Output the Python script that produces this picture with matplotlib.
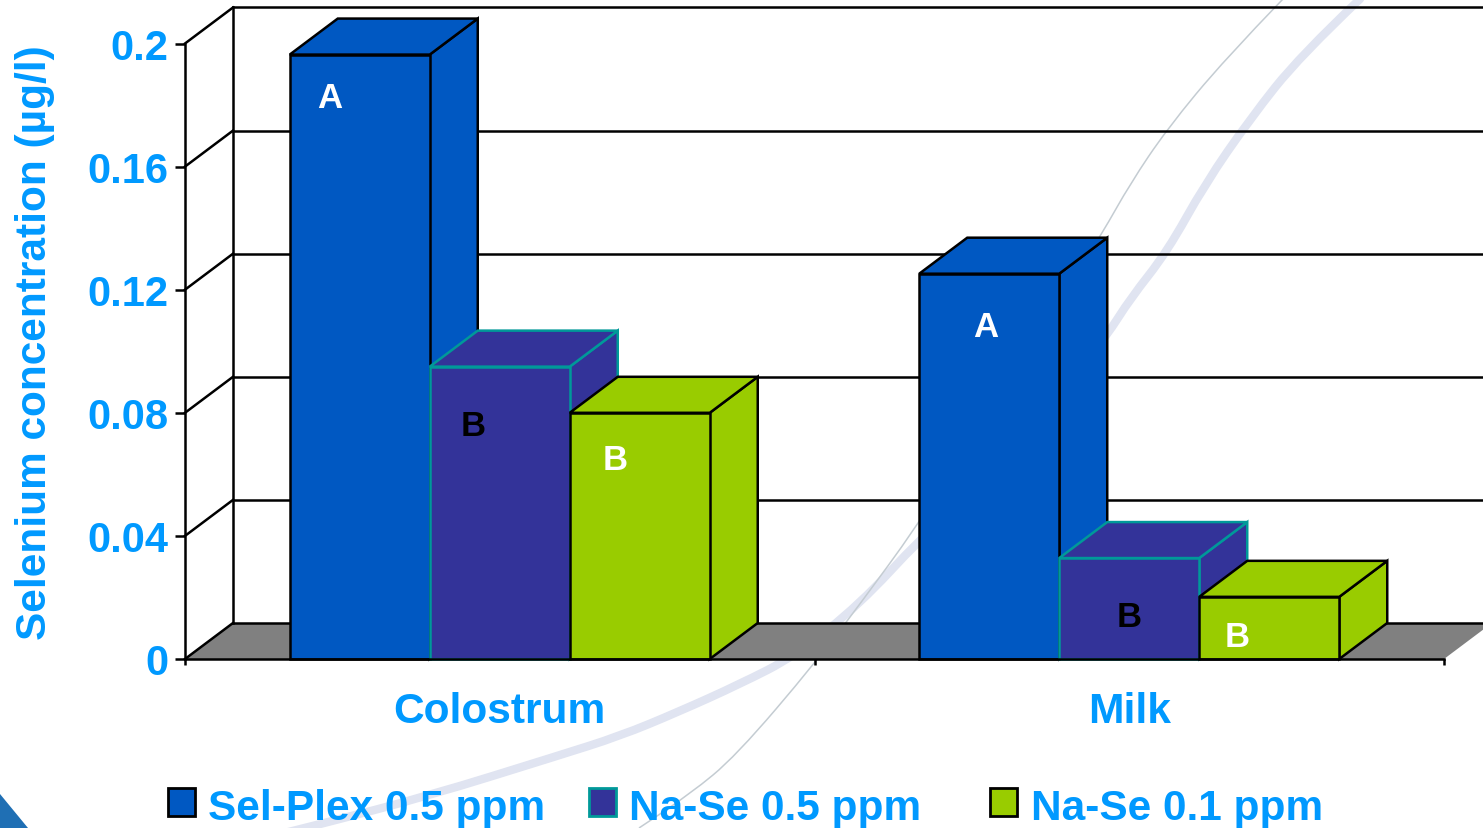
import matplotlib
matplotlib.use("Agg")
import matplotlib.pyplot as plt
from matplotlib.path import Path
from matplotlib.patches import PathPatch
import numpy as np

plt.rcParams['font.family'] = ['Liberation Sans', 'DejaVu Sans']
plt.rcParams['font.weight'] = 'bold'

# data
categories = ["Colostrum", "Milk"]
series = ["Sel-Plex 0.5 ppm", "Na-Se 0.5 ppm", "Na-Se 0.1 ppm"]
sel_plex = [0.1964, 0.1252]
na_se_05 = [0.0950, 0.0328]
na_se_01 = [0.0800, 0.0202]
yticks = [0, 0.04, 0.08, 0.12, 0.16, 0.2]
ytick_labels = ["0", "0.04", "0.08", "0.12", "0.16", "0.2"]

# significance letters: (letter, x, y, colour)
letters = [("A", 0.230, 0.1825, "white"), ("B", 0.458, 0.0758, "black"),
           ("B", 0.683, 0.0647, "white"), ("A", 1.272, 0.1082, "white"),
           ("B", 1.500, 0.0137, "black"), ("B", 1.672, 0.0072, "white")]

colors = ["#0058C2", "#333399", "#99CC00"]
edges = ["black", "#009999", "black"]
text_blue = "#0099FF"

W, H = 1483, 829
fig = plt.figure(figsize=(W / 100, H / 100), dpi=100, facecolor="white")

# background decoration, in pixels
bg = fig.add_axes([0, 0, 1, 1], zorder=0)
bg.set_xlim(0, W)
bg.set_ylim(H, 0)
bg.axis("off")


def swoosh(xs, ys, **kw):
    # smooth curve through midpoints, the read points act as control points
    pts = np.column_stack([xs, ys])
    verts = [pts[0]]
    codes = [Path.MOVETO]
    for a, b in zip(pts[1:-1], pts[2:]):
        verts += [a, (a + b) / 2]
        codes += [Path.CURVE3, Path.CURVE3]
    verts.append(pts[-1])
    codes.append(Path.LINETO)
    bg.add_patch(PathPatch(Path(verts, codes), fill=False, **kw))


thick_x = [1360, 1300, 1250, 1205, 1167, 1130, 1108, 1040, 980, 920, 860, 795, 740, 678, 620, 557, 428, 321, 220]
thick_y = [0, 57, 120, 185, 253, 300, 335, 425, 485, 540, 605, 657, 685, 713, 737, 757, 797, 825, 850]
thin_x = [1283, 1225, 1167, 1130, 1103, 1040, 980, 915, 860, 816, 736, 690, 639]
thin_y = [0, 60, 130, 185, 233, 335, 430, 530, 605, 663, 757, 795, 829]
swoosh(thick_x, thick_y, edgecolor="#E0E4F1", lw=6, capstyle="round")
swoosh(thin_x, thin_y, edgecolor="#C4CCD2", lw=1.1)
bg.fill([0, 0, 28], [795, 829, 829], color="#1F6FB4", lw=0)

# front plane of the chart: x 185-1444 px, y 660-44.5 px
ax = fig.add_axes([185 / W, 1 - 660 / H, (1444 - 185) / W, (660 - 44.5) / H], zorder=1)
ax.patch.set_alpha(0)
ax.set_xlim(0, 2)
ax.set_ylim(0, 0.2)

# depth of the fake 3d, in data units
dx = 48 / 629.5
dy = 36 / 3077
width = 140 / 629.5
lw = 1.8

# floor and walls
ax.fill([0, dx, 2 + dx, 2], [0, dy, dy, 0], color="#808080", lw=0, zorder=1, clip_on=False)
for t in yticks:
    ax.plot([0, dx], [t, t + dy], color="black", lw=lw, zorder=1, clip_on=False)
    ax.plot([dx, 2 + dx], [t + dy, t + dy], color="black", lw=lw, zorder=1, clip_on=False)
ax.plot([dx, dx], [dy, 0.2 + dy], color="black", lw=lw, zorder=1, clip_on=False)

# bars, painted left to right
z = 2
for i in range(len(categories)):
    for j, vals in enumerate([sel_plex, na_se_05, na_se_01]):
        left = i + 0.5 + (j - 1.5) * width
        v = vals[i]
        kw = dict(facecolor=colors[j], edgecolor=edges[j], lw=lw, zorder=z,
                  clip_on=False, joinstyle="miter")
        ax.fill([left + width, left + width + dx, left + width + dx, left + width],
                [0, dy, v + dy, v], **kw)
        ax.fill([left, left + dx, left + width + dx, left + width],
                [v, v + dy, v + dy, v], **kw)
        ax.bar(left, v, width, align="edge", color=colors[j], edgecolor=edges[j],
               lw=lw, zorder=z, clip_on=False)
        z += 1

for s in ["top", "right"]:
    ax.spines[s].set_visible(False)
ax.spines["left"].set_linewidth(lw)
ax.spines["bottom"].set_linewidth(lw)
ax.spines["left"].set_zorder(50)
ax.spines["bottom"].set_zorder(50)

ax.set_yticks(yticks, ytick_labels)
ax.tick_params(axis="y", length=7.2, width=lw, pad=5, labelsize=30, labelcolor=text_blue)
ax.set_xticks([0, 1, 2], ["", "", ""])
ax.set_xticks([0.5, 1.5], categories, minor=True)
ax.tick_params(axis="x", which="major", length=4.3, width=lw)
ax.tick_params(axis="x", which="minor", length=0, pad=23, labelsize=30.6, labelcolor=text_blue)

for letter, x, y, c in letters:
    ax.text(x, y, letter, color=c, fontsize=25, ha="center", va="center", zorder=60)

fig.text(35 / W, 1 - 343 / H, "Selenium concentration (\u00b5g/l)", rotation=90, color=text_blue,
         fontsize=30.5, ha="center", va="center")

# legend is spaced unevenly in the original so it is placed by hand
lg = fig.add_axes([0, 0, 1, 1], zorder=2)
lg.set_xlim(0, W)
lg.set_ylim(H, 0)
lg.axis("off")
for name, c, e, x0, tx in zip(series, colors, edges, [168, 589, 990], [208, 629, 1031]):
    lg.add_patch(plt.Rectangle((x0, 789), 27, 28, facecolor=c, edgecolor=e, lw=2))
    lg.text(tx, 809, name, color=text_blue, fontsize=30.5, va="center", ha="left")

fig.savefig("out.png", dpi=100)
